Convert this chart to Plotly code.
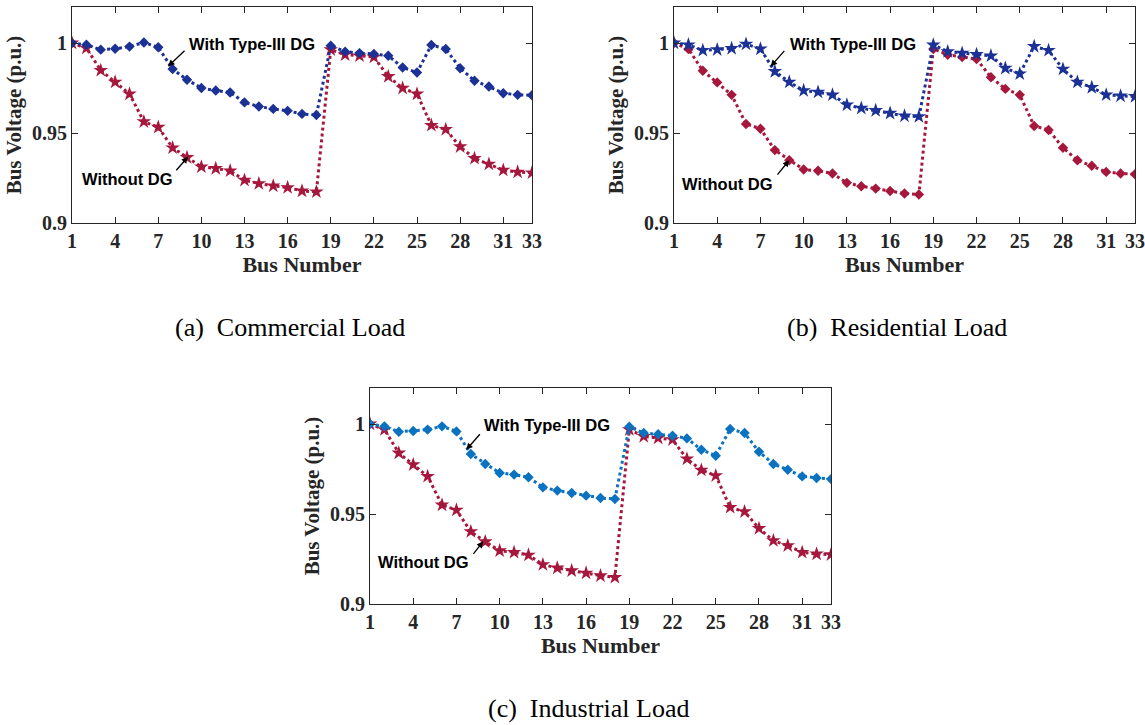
import plotly.graph_objects as go

bus = list(range(1, 34))

# (a) Commercial load
a_with = [1.000, 0.999, 0.9963, 0.9968, 0.998, 1.0003, 0.9976, 0.9855, 0.9796, 0.975,
          0.9736, 0.9725, 0.967, 0.9647, 0.9634, 0.9623, 0.9606, 0.960, 0.9985, 0.9952,
          0.9944, 0.9939, 0.9929, 0.9864, 0.9836, 0.9989, 0.9967, 0.986, 0.979, 0.9758,
          0.9721, 0.9712, 0.971]
a_without = [1.000, 0.9972, 0.9848, 0.9783, 0.9717, 0.9563, 0.9532, 0.9418, 0.9364, 0.9312,
             0.9303, 0.929, 0.9238, 0.9219, 0.9206, 0.9197, 0.9178, 0.9173, 0.9963, 0.9935,
             0.9929, 0.9922, 0.9814, 0.9749, 0.9717, 0.9543, 0.952, 0.9424, 0.9359, 0.9327,
             0.9294, 0.9283, 0.9279]

# (b) Residential load
b_with = [1.000, 0.999, 0.9959, 0.9963, 0.997, 0.9994, 0.9967, 0.9842, 0.9783, 0.9736,
          0.9727, 0.9712, 0.9656, 0.9638, 0.9625, 0.961, 0.9595, 0.9591, 0.9989, 0.9952,
          0.9944, 0.9937, 0.9929, 0.986, 0.9829, 0.9981, 0.9959, 0.9855, 0.9783, 0.9753,
          0.9712, 0.9706, 0.9703]
b_without = [1.000, 0.9967, 0.9846, 0.9781, 0.9712, 0.955, 0.9524, 0.9405, 0.9349, 0.9297,
             0.929, 0.9275, 0.9223, 0.9204, 0.9191, 0.9178, 0.9164, 0.9158, 0.9967, 0.9935,
             0.9922, 0.9911, 0.981, 0.9745, 0.9712, 0.9539, 0.9517, 0.9418, 0.9349, 0.9318,
             0.9284, 0.9275, 0.9271]

# (c) Industrial load
c_with = [1.000, 0.9987, 0.9957, 0.9961, 0.9969, 0.9987, 0.9959, 0.9833, 0.9778, 0.9728,
          0.9719, 0.9704, 0.9648, 0.963, 0.9617, 0.9602, 0.9589, 0.9583, 0.9985, 0.995,
          0.9943, 0.9935, 0.992, 0.9857, 0.9824, 0.9972, 0.995, 0.9846, 0.9778, 0.9746,
          0.9709, 0.970, 0.9694]
c_without = [1.000, 0.9969, 0.9839, 0.9774, 0.9709, 0.955, 0.9522, 0.9402, 0.9346, 0.9296,
             0.9287, 0.9272, 0.9219, 0.920, 0.9185, 0.9172, 0.9157, 0.9148, 0.9969, 0.9931,
             0.9922, 0.9913, 0.9806, 0.9744, 0.9713, 0.9537, 0.9513, 0.942, 0.9352, 0.9324,
             0.9287, 0.9278, 0.9274]

x_ticks = [1, 4, 7, 10, 13, 16, 19, 22, 25, 28, 31, 33]
y_ticks = [0.9, 0.95, 1.0]
y_ticktext = ["0.9", "0.95", "1"]
captions = ["(a)\u2002Commercial Load", "(b)\u2002Residential Load", "(c)\u2002Industrial Load"]

BLUE = "#1B3195"
RED = "#A6173D"
LBLUE = "#0B72C0"
SERIF = "Liberation Serif, Times New Roman, serif"
SANS = "Liberation Sans, Arial, sans-serif"

fig = go.Figure()

panels = [
    # (with, without, with-color, with-symbol, without-symbol, xaxis, yaxis)
    (a_with, a_without, BLUE, "diamond", "star", "x", "y"),
    (b_with, b_without, BLUE, "star", "diamond", "x2", "y2"),
    (c_with, c_without, LBLUE, "diamond", "star", "x3", "y3"),
]

def msize(sym):
    return 11 if sym == "star" else 8

for w, wo, wcol, wsym, wosym, xa, ya in panels:
    fig.add_trace(go.Scatter(
        x=bus, y=wo, mode="lines+markers", name="Without DG", xaxis=xa, yaxis=ya,
        line=dict(color=RED, width=3, dash="3px,3px"),
        marker=dict(symbol=wosym, size=msize(wosym), color=RED, line=dict(width=0)),
        showlegend=False))
    fig.add_trace(go.Scatter(
        x=bus, y=w, mode="lines+markers", name="With Type-III DG", xaxis=xa, yaxis=ya,
        line=dict(color=wcol, width=3, dash="3px,3px"),
        marker=dict(symbol=wsym, size=msize(wsym), color=wcol, line=dict(width=0)),
        showlegend=False))

W, H = 1145, 725
def dx(p0, p1):
    return [p0 / W, p1 / W]
def dy(top, bottom):
    return [1 - bottom / H, 1 - top / H]

domains = [
    (dx(72, 532), dy(7, 223)),
    (dx(674, 1135), dy(7, 223)),
    (dx(370, 831), dy(388, 604)),
]

axis_common = dict(showline=True, linecolor="#262626", linewidth=1, mirror="allticks",
                   ticks="inside", ticklen=6, tickcolor="#262626", showgrid=False,
                   zeroline=False)

layout = dict(width=W, height=H, margin=dict(l=0, r=0, t=0, b=0),
              paper_bgcolor="white", plot_bgcolor="white", showlegend=False)

for i, (xd, yd) in enumerate(domains):
    sx = "" if i == 0 else str(i + 1)
    layout["xaxis" + sx] = dict(
        domain=xd, range=[1, 33], tickvals=x_ticks, anchor="y" + sx,
        ticktext=["<b>%d</b>" % t for t in x_ticks],
        tickfont=dict(family=SERIF, size=20, color="#262626"),
        title=dict(text="<b>Bus Number</b>", font=dict(family=SERIF, size=22, color="#262626"),
                   standoff=2),
        automargin=False, **axis_common)
    layout["yaxis" + sx] = dict(
        domain=yd, range=[0.9, 1.02], tickvals=y_ticks,
        ticktext=["<b>%s</b>" % t for t in y_ticktext], anchor="x" + sx,
        tickfont=dict(family=SERIF, size=20, color="#262626"),
        title=dict(text="<b>Bus Voltage (p.u.)</b>", font=dict(family=SERIF, size=21, color="#262626"),
                   standoff=4),
        automargin=False, **axis_common)

fig.update_layout(**layout)

annotations = []
ann_spec = [
    ("x", "y", 9.0, 0.9996, 8.15, 0.9247, (7.68, 0.987), (18, -17), (9.07, 0.9368), (-13, 15)),
    ("x2", "y2", 8.88, 0.9996, 8.04, 0.9219, (7.71, 0.987), (15, -17), (9.0, 0.9349), (-13, 16)),
    ("x3", "y3", 8.74, 0.9994, 8.02, 0.9231, (7.68, 0.9857), (15, -17), (8.86, 0.9348), (-11, 14)),
]
for xr, yr, wtx, wty, wotx, woty, wh, wo_, woh, woo in ann_spec:
    annotations.append(dict(x=wtx, y=wty, xref=xr, yref=yr, text="<b>With Type-III DG</b>",
                            showarrow=False, xanchor="left", yanchor="middle",
                            font=dict(family=SANS, size=16.5, color="black")))
    annotations.append(dict(x=wotx, y=woty, xref=xr, yref=yr, text="<b>Without DG</b>",
                            showarrow=False, xanchor="right", yanchor="middle",
                            font=dict(family=SANS, size=16.5, color="black")))
    annotations.append(dict(x=wh[0], y=wh[1], xref=xr, yref=yr, text="", showarrow=True,
                            ax=wo_[0], ay=wo_[1], arrowhead=2, arrowsize=1, arrowwidth=1.3,
                            arrowcolor="black"))
    annotations.append(dict(x=woh[0], y=woh[1], xref=xr, yref=yr, text="", showarrow=True,
                            ax=woo[0], ay=woo[1], arrowhead=2, arrowsize=1, arrowwidth=1.3,
                            arrowcolor="black"))

cap_pos = [(290, 327), (897, 327), (588, 708)]
for cap, (px, py) in zip(captions, cap_pos):
    annotations.append(dict(x=px / W, y=1 - py / H, xref="paper", yref="paper", text=cap,
                            showarrow=False, xanchor="center", yanchor="middle",
                            font=dict(family=SERIF, size=26, color="black")))

fig.update_layout(annotations=annotations)
fig.write_html("out.html")
